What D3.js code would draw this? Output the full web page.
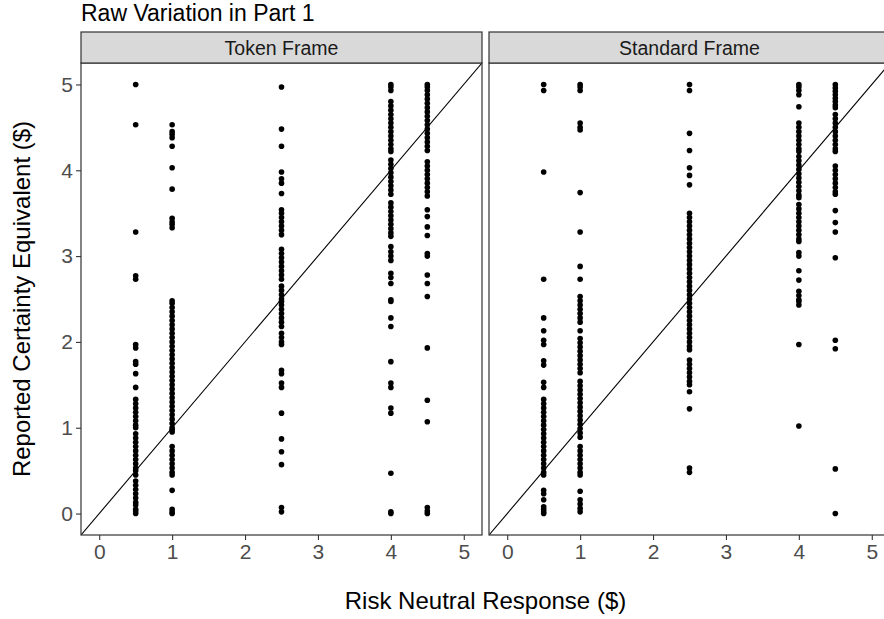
<!DOCTYPE html>
<html>
<head>
<meta charset="utf-8">
<script src="https://cdn.jsdelivr.net/npm/d3@7"></script>
<style>
  html, body { margin: 0; padding: 0; background: #ffffff; }
  svg { display: block; font-family: "Liberation Sans", Arial, sans-serif; }
</style>
</head>
<body>
<div id="chart"></div>
<script>
// Facets and the risk neutral response (x) of each column of points
const frames = ['Token Frame', 'Standard Frame'];
const riskNeutral = [0.5, 1, 2.5, 4, 4.5];
const xTicks = [0, 1, 2, 3, 4, 5];
const yTicks = [0, 1, 2, 3, 4, 5];

// Reported certainty equivalents, Token Frame, one list per risk neutral value
const token05 = [5.00, 4.53, 3.28, 2.77, 2.73, 1.97, 1.93, 1.77, 1.74, 1.63, 1.47,
    1.33, 1.28, 1.23, 1.18, 1.13, 1.08, 1.03, 1.00, 0.93, 0.88, 0.83, 0.78, 0.73,
    0.68, 0.63, 0.58, 0.53, 0.50, 0.45, 0.38, 0.33, 0.28, 0.23, 0.18, 0.13, 0.10,
    0.05, 0.03, 0.00];
const token1 = [4.53, 4.45, 4.42, 4.38, 4.28, 4.03, 3.78, 3.44, 3.40, 3.37, 3.33,
    2.48, 2.45, 2.40, 2.35, 2.30, 2.25, 2.20, 2.15, 2.10, 2.05, 2.00, 1.95, 1.90,
    1.85, 1.80, 1.75, 1.70, 1.65, 1.60, 1.55, 1.50, 1.45, 1.40, 1.35, 1.30, 1.25,
    1.20, 1.15, 1.10, 1.05, 1.00, 0.98, 0.95, 0.78, 0.73, 0.68, 0.63, 0.58, 0.53,
    0.48, 0.45, 0.27, 0.05, 0.02, 0.00];
const token25 = [4.97, 4.48, 4.28, 3.98, 3.90, 3.85, 3.73, 3.54, 3.50, 3.45, 3.40,
    3.35, 3.30, 3.25, 3.08, 3.03, 2.98, 2.93, 2.88, 2.83, 2.78, 2.73, 2.65, 2.60,
    2.55, 2.50, 2.47, 2.43, 2.38, 2.33, 2.28, 2.23, 2.18, 2.10, 2.05, 2.00, 1.97,
    1.67, 1.63, 1.52, 1.47, 1.17, 0.87, 0.72, 0.57, 0.07, 0.02];
const token4 = [5.00, 4.97, 4.93, 4.80, 4.75, 4.70, 4.65, 4.60, 4.55, 4.50, 4.45,
    4.40, 4.35, 4.30, 4.25, 4.22, 4.12, 4.07, 4.02, 3.97, 3.92, 3.87, 3.82, 3.77,
    3.72, 3.62, 3.57, 3.52, 3.47, 3.42, 3.37, 3.32, 3.27, 3.23, 3.11, 3.05, 3.00,
    2.95, 2.80, 2.75, 2.68, 2.49, 2.47, 2.28, 2.18, 1.77, 1.52, 1.47, 1.23, 1.17,
    0.47, 0.02, 0.00];
const token45 = [5.00, 4.97, 4.93, 4.88, 4.83, 4.78, 4.73, 4.68, 4.63, 4.58, 4.53,
    4.48, 4.43, 4.38, 4.33, 4.28, 4.23, 4.10, 4.05, 4.00, 3.95, 3.90, 3.85, 3.80,
    3.75, 3.70, 3.54, 3.46, 3.34, 3.24, 3.03, 3.00, 2.78, 2.68, 2.53, 1.93, 1.32,
    1.07, 0.07, 0.03, 0.00];

// Reported certainty equivalents, Standard Frame
const standard05 = [5.00, 4.93, 3.98, 2.73, 2.28, 2.13, 2.02, 1.97, 1.78, 1.73, 1.53,
    1.47, 1.33, 1.28, 1.23, 1.18, 1.13, 1.08, 1.03, 0.98, 0.93, 0.88, 0.83, 0.78,
    0.73, 0.68, 0.63, 0.58, 0.53, 0.48, 0.45, 0.27, 0.23, 0.16, 0.08, 0.05, 0.02,
    0.00];
const standard1 = [5.00, 4.97, 4.93, 4.55, 4.50, 4.47, 3.74, 3.28, 2.88, 2.73, 2.53,
    2.48, 2.43, 2.38, 2.33, 2.28, 2.23, 2.13, 2.04, 1.99, 1.94, 1.89, 1.84, 1.79,
    1.74, 1.69, 1.64, 1.54, 1.49, 1.44, 1.39, 1.34, 1.29, 1.24, 1.19, 1.14, 1.09,
    1.04, 0.99, 0.94, 0.89, 0.78, 0.73, 0.68, 0.63, 0.58, 0.53, 0.48, 0.45, 0.26,
    0.16, 0.11, 0.06, 0.02];
const standard25 = [5.00, 4.93, 4.43, 4.23, 4.03, 3.94, 3.83, 3.50, 3.45, 3.40, 3.35,
    3.30, 3.25, 3.20, 3.15, 3.10, 3.05, 3.00, 2.95, 2.90, 2.85, 2.80, 2.75, 2.70,
    2.65, 2.60, 2.55, 2.50, 2.45, 2.40, 2.35, 2.30, 2.25, 2.20, 2.15, 2.10, 2.05,
    2.00, 1.95, 1.91, 1.79, 1.74, 1.69, 1.64, 1.59, 1.54, 1.50, 1.42, 1.22, 0.53,
    0.48];
const standard4 = [5.00, 4.97, 4.93, 4.88, 4.74, 4.55, 4.50, 4.45, 4.40, 4.35, 4.30,
    4.25, 4.22, 4.16, 4.11, 4.06, 4.01, 3.96, 3.91, 3.86, 3.81, 3.76, 3.71, 3.68,
    3.60, 3.55, 3.50, 3.45, 3.40, 3.35, 3.30, 3.25, 3.20, 3.17, 3.04, 3.00, 2.83,
    2.72, 2.59, 2.54, 2.49, 2.47, 2.43, 1.97, 1.02];
const standard45 = [5.00, 4.96, 4.92, 4.88, 4.84, 4.80, 4.76, 4.73, 4.65, 4.60, 4.55,
    4.50, 4.45, 4.40, 4.35, 4.30, 4.25, 4.22, 4.05, 4.00, 3.95, 3.90, 3.85, 3.80,
    3.75, 3.72, 3.53, 3.39, 3.28, 2.98, 2.02, 1.92, 0.52, 0.00];

const frameValues = {
    'Token Frame': [token05, token1, token25, token4, token45],
    'Standard Frame': [standard05, standard1, standard25, standard4, standard45]
};

function createFacetScatter(containerId)
{
    const width = 884;
    const height = 619;
    const panelTop = 63;
    const panelBottom = 535;
    const stripTop = 32;
    const panelLefts = [81, 489];
    const panelWidth = 401;

    const svg = d3.select(containerId)
        .append('svg')
        .attr('width', width)
        .attr('height', height);

    // Shared y scale (ggplot-like 5% expansion)
    const yScale = d3.scaleLinear()
        .domain([-0.25, 5.25])
        .range([panelBottom, panelTop]);

    // Title
    svg.append('text')
        .attr('x', 81)
        .attr('y', 21)
        .attr('font-size', 23)
        .attr('fill', '#000')
        .text('Raw Variation in Part 1');

    frames.forEach((frame, i) => {
        const left = panelLefts[i];
        const xScale = d3.scaleLinear()
            .domain([-0.25, 5.25])
            .range([left, left + panelWidth]);

        const clipId = 'clip' + i;
        svg.append('clipPath')
            .attr('id', clipId)
            .append('rect')
            .attr('x', left)
            .attr('y', panelTop)
            .attr('width', panelWidth)
            .attr('height', panelBottom - panelTop);

        const panel = svg.append('g').attr('clip-path', `url(#${clipId})`);

        // 45 degree reference line
        panel.append('line')
            .attr('x1', xScale(-0.25))
            .attr('y1', yScale(-0.25))
            .attr('x2', xScale(5.25))
            .attr('y2', yScale(5.25))
            .attr('stroke', '#000')
            .attr('stroke-width', 1.1);

        // Points
        const points = [];
        riskNeutral.forEach((rn, j) => {
            frameValues[frame][j].forEach(ce => points.push({ x: rn, y: ce }));
        });

        panel.selectAll('circle')
            .data(points)
            .enter()
            .append('circle')
            .attr('cx', d => xScale(d.x))
            .attr('cy', d => yScale(d.y))
            .attr('r', 2.8)
            .attr('fill', '#000');

        // Panel border
        svg.append('rect')
            .attr('x', left)
            .attr('y', panelTop)
            .attr('width', panelWidth)
            .attr('height', panelBottom - panelTop)
            .attr('fill', 'none')
            .attr('stroke', '#333')
            .attr('stroke-width', 1.2);

        // Strip
        svg.append('rect')
            .attr('x', left)
            .attr('y', stripTop)
            .attr('width', panelWidth)
            .attr('height', panelTop - stripTop)
            .attr('fill', '#D9D9D9')
            .attr('stroke', '#333')
            .attr('stroke-width', 1.2);

        svg.append('text')
            .attr('x', left + panelWidth / 2)
            .attr('y', (stripTop + panelTop) / 2 + 7)
            .attr('text-anchor', 'middle')
            .attr('font-size', 19.5)
            .attr('fill', '#1A1A1A')
            .text(frame);

        // x axis
        const xAxis = d3.axisBottom(xScale)
            .tickValues(xTicks)
            .tickSize(5)
            .tickPadding(4)
            .tickFormat(d3.format('d'));
        const gx = svg.append('g')
            .attr('transform', `translate(0, ${panelBottom})`)
            .call(xAxis);
        gx.select('.domain').remove();
        gx.selectAll('line').attr('stroke', '#333').attr('stroke-width', 1.1);
        gx.selectAll('text')
            .attr('font-size', 21)
            .attr('font-family', '"Liberation Sans", Arial, sans-serif')
            .attr('fill', '#4D4D4D');

        // y axis only on the first panel
        if (i === 0) {
            const yAxis = d3.axisLeft(yScale)
                .tickValues(yTicks)
                .tickSize(5)
                .tickPadding(3)
                .tickFormat(d3.format('d'));
            const gy = svg.append('g')
                .attr('transform', `translate(${left}, 0)`)
                .call(yAxis);
            gy.select('.domain').remove();
            gy.selectAll('line').attr('stroke', '#333').attr('stroke-width', 1.1);
            gy.selectAll('text')
                .attr('font-size', 21)
                .attr('font-family', '"Liberation Sans", Arial, sans-serif')
                .attr('fill', '#4D4D4D');
        }
    });

    // Axis titles
    svg.append('text')
        .attr('x', (panelLefts[0] + panelLefts[1] + panelWidth) / 2)
        .attr('y', 609)
        .attr('text-anchor', 'middle')
        .attr('font-size', 24)
        .attr('fill', '#000')
        .text('Risk Neutral Response ($)');

    svg.append('text')
        .attr('transform', 'rotate(-90)')
        .attr('x', -(panelTop + panelBottom) / 2)
        .attr('y', 30)
        .attr('text-anchor', 'middle')
        .attr('font-size', 24)
        .attr('fill', '#000')
        .text('Reported Certainty Equivalent ($)');
}

createFacetScatter('#chart');
</script>
</body>
</html>
